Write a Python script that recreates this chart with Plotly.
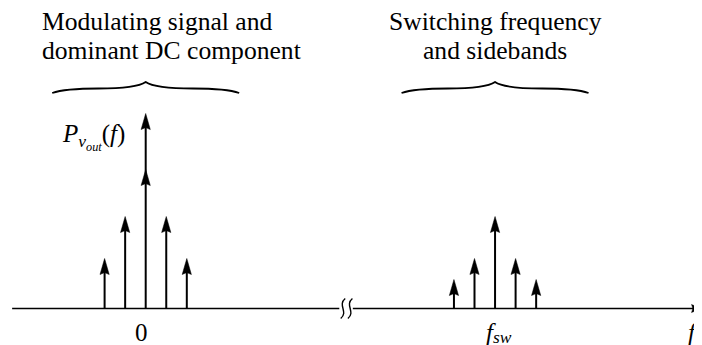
import plotly.graph_objects as go

# ---------------- data ----------------
# modulating-signal components around DC (display units of delta-f)
dc_offsets = [-2, -1, 0, 1, 2]
dc_heights = [0.50, 0.92, 1.95, 0.92, 0.50]
dc_inner_height = 1.39          # second arrowhead on the dominant DC line
# switching frequency and its sidebands (display position on the broken axis)
fsw_position = 17.0
sw_offsets = [-2, -1, 0, 1, 2]
sw_heights = [0.29, 0.50, 0.92, 0.50, 0.29]

title_left = ["Modulating signal and", "dominant DC component"]
title_right = ["Switching frequency", "and sidebands"]
tick_zero = "0"
tick_fsw_main, tick_fsw_sub = "<i>f</i>", "<i>sw</i>"
axis_label = "<i>f</i>"
ylabel = "<i>P</i><sub><i>v</i><sub><i>out</i></sub></sub>(<i>f</i>)"

# ---------------- layout constants ----------------
OFF = 8                           # page body margin
W, H = 702 - OFF, 345 - OFF
UX, UY = 20.55, 100.0            # px per display unit
ZX = 145.7 - OFF                 # pixel of f = 0 inside the figure
BY = 308.5 - OFF                 # pixel of the baseline inside the figure
XR = [-ZX / UX, (W - ZX) / UX]
YR = [-(H - BY) / UY, BY / UY]
FONT = "Liberation Serif"
BLACK = "#000000"

hw = 4.6 / UX   # arrowhead half width
hl = 16.0 / UY  # arrowhead length

dc_x = [0 + o for o in dc_offsets]
sw_x = [fsw_position + o for o in sw_offsets]

stems_x, stems_y = [], []
heads_x, heads_y = [], []


def add_head(x, tip):
    heads_x.extend([x, x - hw, x, x + hw, x, None])
    heads_y.extend([tip, tip - hl, tip - hl * 0.88, tip - hl, tip, None])


for xs, hs in ((dc_x, dc_heights), (sw_x, sw_heights)):
    for x, h in zip(xs, hs):
        stems_x.extend([x, x, None])
        stems_y.extend([0, h - hl * 0.8, None])
        add_head(x, h)
add_head(dc_x[2], dc_inner_height)

fig = go.Figure()
fig.add_trace(go.Scatter(x=stems_x, y=stems_y, mode="lines",
                         line=dict(color=BLACK, width=2), hoverinfo="skip",
                         showlegend=False))
fig.add_trace(go.Scatter(x=heads_x, y=heads_y, mode="lines", fill="toself",
                         fillcolor=BLACK, line=dict(color=BLACK, width=0.5),
                         hoverinfo="skip", showlegend=False))

# frequency axis with a break
ax_start, brk_l, brk_r, ax_end = -6.5, 9.42, 10.08, 27.0
ahl, ahw = 9.0 / UX, 4.0 / UY
fig.add_trace(go.Scatter(x=[ax_start, brk_l, None, brk_r, ax_end - ahl * 0.7],
                         y=[0, 0, None, 0, 0], mode="lines",
                         line=dict(color=BLACK, width=1.6), hoverinfo="skip",
                         showlegend=False))
fig.add_trace(go.Scatter(x=[ax_end, ax_end - ahl, ax_end - ahl * 0.85, ax_end - ahl, ax_end],
                         y=[0, ahw, 0, -ahw, 0], mode="lines", fill="toself",
                         fillcolor=BLACK, line=dict(color=BLACK, width=0.5),
                         hoverinfo="skip", showlegend=False))

shapes = []
# break squiggles
for xc in (9.6, 9.95):
    dx, dy = 0.11, 0.10
    path = (f"M {xc + dx},{dy} C {xc - 0.28},{dy * 0.35} {xc + 0.28},{-dy * 0.35} "
            f"{xc - dx},{-dy}")
    shapes.append(dict(type="path", path=path, xref="x", yref="y",
                       line=dict(color=BLACK, width=1.4)))

# curly braces over each group
ye, ym, yc = (308.5 - 93) / UY, (308.5 - 88.5) / UY, (308.5 - 82) / UY
for xc in (dc_x[2], sw_x[2]):
    xl, xr = xc - 4.55, xc + 4.55
    path = (f"M {xl},{ye} Q {xl + 0.6},{ym} {xc - 2.3},{ym} Q {xc - 0.45},{ym} {xc},{yc} "
            f"Q {xc + 0.45},{ym} {xc + 2.3},{ym} Q {xr - 0.6},{ym} {xr},{ye}")
    shapes.append(dict(type="path", path=path, xref="x", yref="y",
                       line=dict(color=BLACK, width=1.8)))

ann = []
title_font = dict(family=FONT, size=25.6, color=BLACK)
label_font = dict(family=FONT, size=25, color=BLACK)
sub_font = dict(family=FONT, size=17.5, color=BLACK)
y1, y2 = (308.5 - 21.1) / UY, (308.5 - 50.3) / UY
ann.append(dict(x=-5.12, y=y1, text=title_left[0], xanchor="left", yanchor="middle", font=title_font))
ann.append(dict(x=-5.12, y=y2, text=title_left[1], xanchor="left", yanchor="middle", font=title_font))
ann.append(dict(x=fsw_position, y=y1, text=title_right[0], xanchor="center", yanchor="middle", font=title_font))
ann.append(dict(x=fsw_position, y=y2, text=title_right[1], xanchor="center", yanchor="middle", font=title_font))

ytop = (308.5 - 316.5) / UY
ann.append(dict(x=dc_x[2] - 0.2, y=ytop, text=tick_zero, xanchor="center", yanchor="top", font=label_font))
ann.append(dict(x=fsw_position + 0.12, y=ytop, text=tick_fsw_main, xanchor="right", yanchor="top", font=label_font))
ann.append(dict(x=fsw_position - 0.2, y=(308.5 - 325.0) / UY, text=tick_fsw_sub, xanchor="left",
                yanchor="top", font=sub_font))
ann.append(dict(x=26.63, y=ytop, text=axis_label, xanchor="center", yanchor="top", font=label_font))
ann.append(dict(x=-0.9, y=(308.5 - 117.7) / UY, text=ylabel, xanchor="right", yanchor="top", font=label_font))

for a in ann:
    a.update(xref="x", yref="y", showarrow=False)

fig.update_layout(
    width=W, height=H, autosize=False,
    margin=dict(l=0, r=0, t=0, b=0, pad=0),
    paper_bgcolor="white", plot_bgcolor="white",
    xaxis=dict(range=XR, visible=False, fixedrange=True),
    yaxis=dict(range=YR, visible=False, fixedrange=True),
    shapes=shapes, annotations=ann, showlegend=False,
)

fig.write_html("out.html", config=dict(displayModeBar=False))
